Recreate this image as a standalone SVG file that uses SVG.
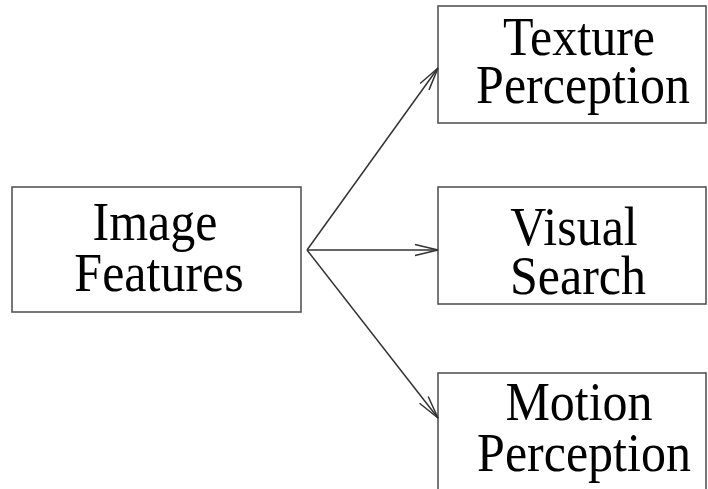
<svg xmlns="http://www.w3.org/2000/svg" width="708" height="489" viewBox="0 0 708 489">
<defs>
<style>
.box{fill:#fff;stroke:#555;stroke-width:1.6}
.t{font-family:"Liberation Serif","Times New Roman",serif;font-size:50px;fill:#000;text-anchor:middle}
.edge{fill:none;stroke:#333;stroke-width:1.5}
.head{fill:none;stroke:#333;stroke-width:1.5}
</style>
<marker id="arr" markerUnits="userSpaceOnUse" markerWidth="30" markerHeight="16" refX="24" refY="8" orient="auto" overflow="visible">
<path class="head" d="M1,2.5 L24,8 L1,13.5"/>
</marker>
</defs>
<rect width="708" height="489" fill="#fff"/>
<g id="image-features">
<rect class="box" x="12" y="187" width="289" height="125"/>
<text class="t" transform="translate(155,240) scale(1,1.1)">Image</text>
<text class="t" transform="translate(159,291) scale(1,1.1)">Features</text>
</g>
<g id="texture-perception">
<rect class="box" x="438" y="6" width="268" height="117"/>
<text class="t" transform="translate(579,55) scale(1,1.1)">Texture</text>
<text class="t" transform="translate(583,103) scale(1,1.1)">Perception</text>
</g>
<g id="visual-search">
<rect class="box" x="438" y="187" width="268" height="117"/>
<text class="t" transform="translate(574,245) scale(1,1.1)">Visual</text>
<text class="t" transform="translate(578,294) scale(1,1.1)">Search</text>
</g>
<g id="motion-perception">
<rect class="box" x="438" y="373" width="268" height="130"/>
<text class="t" transform="translate(579,420) scale(1,1.1)">Motion</text>
<text class="t" transform="translate(584,471) scale(1,1.1)">Perception</text>
</g>
<g id="connectors">
<line class="edge" x1="307" y1="250" x2="438" y2="68" marker-end="url(#arr)"/>
<line class="edge" x1="307" y1="250" x2="438" y2="250" marker-end="url(#arr)"/>
<line class="edge" x1="307" y1="250" x2="438" y2="418" marker-end="url(#arr)"/>
</g>
</svg>
